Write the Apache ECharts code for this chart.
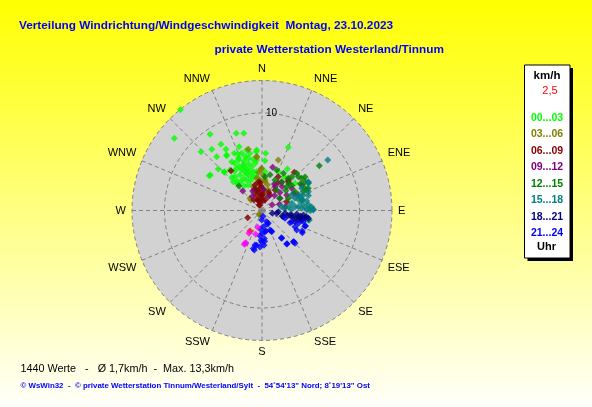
<!DOCTYPE html>
<html><head><meta charset="utf-8">
<script src="https://cdn.jsdelivr.net/npm/echarts@6/dist/echarts.min.js"></script>
<style>html,body{margin:0;padding:0;width:592px;height:407px;overflow:hidden}#c{width:592px;height:407px}</style>
</head><body><div id="c"></div>
<script>
// ---- texts ----
const titleText = 'Verteilung Windrichtung/Windgeschwindigkeit  Montag, 23.10.2023';
const stationText = 'private Wetterstation Westerland/Tinnum';
const statsText = '1440 Werte   -   \u00d8 1,7km/h  -  Max. 13,3km/h';
const footerText = '\u00a9 WsWin32  -  \u00a9 private Wetterstation Tinnum/Westerland/Sylt  -  54\u02da54\'13" Nord; 8\u02da19\'13" Ost';
const unitText = 'km/h';
const ringStepText = '2,5';
const hourText = 'Uhr';

// ---- axes ----
const directions = ['N','NNE','NE','ENE','E','ESE','SE','SSE','S','SSW','SW','WSW','W','WNW','NW','NNW'];
const ringValue = 10;
const maxSpeed = 13.33;

// ---- time bins (legend) ----
const timeBins = ['00...03','03...06','06...09','09...12','12...15','15...18','18...21','21...24'];
const binColors = ['#00ff00','#808000','#800000','#800080','#008000','#008080','#000080','#0000ff'];

// ---- data: [speed km/h, direction deg] ----
const h00_03 = [[13.3,321],[11.65,309.5],[9.46,325.7],[8.35,341.6],[8.14,346.7],[7.99,328.2],[8.69,314],[8.12,320.6],[7.28,329.5],[6.95,340.2],[7.21,319.9],[6.18,313.5],[6.43,304.5],[5.55,315.8],[5.88,3.7],[5.12,3.4],[6.06,354.5],[6.52,334.2],[6.75,327.5],[6.22,340.5],[6.4,345.8],[5.53,345.3],[5.72,334.9],[5.89,328.2],[5.04,337.7],[4.62,346.8],[5.05,329],[4.35,336.3],[4.28,328.2],[3.84,341.3],[4.44,321.4],[3.5,333.4],[5.29,321.7],[4.89,351.6],[4.08,347.4],[3.65,323.9],[3.99,4.4],[2.97,331.8],[4.17,315.1],[3.51,351.1],[6.69,327.2],[6.48,303.4],[5.5,315.4],[7.02,22.6],[3.69,317.5],[4.32,22.8],[4.98,31.4],[4.15,33.4],[4.39,50.5],[6.23,355],[5.2,354],[5.9,336],[5.4,340],[5.0,344],[4.7,333],[4.5,340],[4.9,325],[5.6,330],[6.0,348],[4.1,337],[3.8,330],[3.3,340],[3.1,324],[5.3,350],[4.6,318],[4.0,352],[5.8,343],[6.3,337],[4.2,342],[3.6,346],[5.1,333],[4.8,338],[3.9,320]];
const h03_06 = [[6.43,347.4],[5.48,354.3],[4.33,359.6],[3.14,5.6],[3.13,356.2],[2.39,342.5],[1.56,313.7],[2.12,8.3],[5.44,17.9],[4.26,358.6],[1.97,348.9],[2.97,6],[3.35,350.6],[2.44,359],[1.72,22.1],[0.5,204],[0.5,219],[5.57,354.4],[1.76,315.5],[2.6,340],[1.6,359],[2.2,17],[2.9,350],[3.6,2],[2.0,335],[1.2,350],[3.9,355],[2.7,12],[1.4,5]];
const h06_09 = [[2.29,356.6],[5.13,40.2],[3.85,25.7],[2.97,354],[4.0,42.4],[2.1,3.6],[1.17,337.7],[0.6,340],[1.6,359],[1.64,243.3],[2.86,356],[4.13,40.8],[5.17,322.1],[2.69,70.4],[2.16,346.3],[1.7,338.8],[1.15,339.2],[0.64,331.4],[2.51,357.7],[2.71,344.7],[1.69,3.5],[1.12,16],[1.35,322.7],[1.79,27.3],[2.49,32.4],[1.9,350],[1.4,355],[0.9,345],[2.3,340],[1.0,5],[3.3,30],[2.0,20]];
const h09_12 = [[4.56,13.9],[2.81,315.3],[2.18,3.5],[2.78,28.6],[3.8,53.2],[2.99,57.9],[4.05,66.9],[2.4,80.6],[2.23,55.9],[1.55,24.5],[4.84,57.3],[2.21,334.5],[1.74,324.9],[3.2,40],[2.6,45],[3.5,35],[1.9,70],[3.0,25],[2.0,40],[3.7,62],[1.2,60]];
const h12_15 = [[7.46,52],[5.09,47.1],[5.26,64.4],[4.62,41.3],[5.24,50.9],[5.31,56.2],[3.4,23.1],[3.75,12.7],[3.48,5.1],[5.22,43],[4.26,39.2],[3.58,34.4],[3.9,60.3],[4.21,75.2],[2.97,65.1],[4.65,65.5],[5.54,59],[5.04,65.4],[4.42,19.9],[3.52,46.1],[3.45,316.8],[4.0,50],[4.8,55],[3.2,50],[2.6,35],[4.4,30],[5.6,52],[2.2,55],[3.9,45],[4.9,61]];
const h15_18 = [[8.5,52.5],[5.59,58.1],[4.66,60.8],[5.26,89.4],[4.93,87.4],[4.42,84.9],[3.75,84],[3.14,76.4],[3.6,69.7],[4.14,79.7],[4.68,78],[4.15,70],[4.05,66.9],[4.52,69.4],[5.13,67.9],[5.51,59.6],[5.26,88.7],[3.43,62.4],[4.85,101.6],[4.08,86.8],[3.42,83.4],[2.74,81.8],[4.6,89.4],[4.95,90.2],[4.95,101.4],[3.0,88],[2.3,85],[4.3,75],[5.0,72],[3.9,73],[4.8,83],[5.1,86],[2.0,78]];
const h18_21 = [[4.15,101.1],[3.78,99.7],[3.08,98.6],[2.38,97],[1.68,94.2],[4.28,96.2],[3.58,95.8],[2.92,99.1],[3.57,108.7],[4.18,103.5],[4.82,99.6],[2.28,106.2],[1.54,100.8],[2.14,105.4],[3.51,102.2],[4.22,102.4],[4.5,100],[3.9,104],[3.2,103],[2.7,101],[4.0,98],[4.6,98],[1.1,105]];
const h21_24 = [[0.98,181.8],[1.67,175.4],[2.35,179.2],[2.2,171.9],[3.04,181.9],[2.87,175.3],[3.74,183.2],[3.61,191.5],[4.13,191],[1.46,153.8],[2.17,157.7],[3.49,144.7],[4.27,143.6],[4.53,134.9],[4.77,134.8],[4.72,118.8],[4.69,109.8],[4.08,119.3],[3.77,116.1],[3.14,113.5],[1.25,157.2],[2.5,108.7],[3.27,110.7],[3.97,109.4],[4.39,105.2],[1.5,160],[2.15,169],[2.32,155.6],[3.44,144.6],[4.28,143],[4.58,134.6],[4.74,109.7],[4.63,117.1],[3.16,175],[4.0,193],[3.6,188.7],[3.22,180.5],[3.56,176.7],[2.4,155.4],[0.6,170],[1.9,185],[2.6,185]];
const markRed = [[2.44,210.3]];
const markMagenta = [[2.7,209.7],[2.53,194.8],[3.7,206.8],[3.91,207.6],[1.78,194.4],[3.8,207]];

const binData = [h00_03,h03_06,h06_09,h09_12,h12_15,h15_18,h18_21,h21_24];

const chart = echarts.init(document.getElementById('c'), null, {renderer:'canvas'});
const FF = 'Liberation Sans, Arial, sans-serif';
const CX = 262, CY = 210.5, R = 130;

const series = binData.map((d,i)=>({
  name: timeBins[i], type:'scatter', coordinateSystem:'polar',
  symbol:'diamond', symbolSize:7, data:d,
  itemStyle:{color:binColors[i]}, silent:true
}));
series.push({name:'red',type:'scatter',coordinateSystem:'polar',symbol:'diamond',symbolSize:7,data:markRed,itemStyle:{color:'#ff0000'},silent:true});
series.push({name:'magenta',type:'scatter',coordinateSystem:'polar',symbol:'diamond',symbolSize:7,data:markMagenta,itemStyle:{color:'#ff00ff'},silent:true});

const legendX = 547;
const legendGraphics = [
  {type:'rect', shape:{x:527.5,y:68,width:45.5,height:193}, style:{fill:'#000'}},
  {type:'rect', shape:{x:524.5,y:65,width:45.5,height:193}, style:{fill:'#fff',stroke:'#000',lineWidth:1}},
  {type:'text', x:legendX, y:75.5, style:{text:unitText, fill:'#000', font:'bold 11.5px '+FF, textAlign:'center', textVerticalAlign:'middle'}},
  {type:'text', x:550, y:91, style:{text:ringStepText, fill:'#ff0000', font:'11px '+FF, textAlign:'center', textVerticalAlign:'middle'}},
  {type:'text', x:546.5, y:247, style:{text:hourText, fill:'#000', font:'bold 11px '+FF, textAlign:'center', textVerticalAlign:'middle'}}
];
timeBins.forEach((t,i)=>{
  legendGraphics.push({type:'text', x:legendX, y:117.8+i*16.5, style:{text:t, fill:binColors[i], font:'bold 10.5px '+FF, textAlign:'center', textVerticalAlign:'middle'}});
});

const option = {
  animation:false,
  backgroundColor:{type:'linear',x:0,y:0,x2:0,y2:1,colorStops:[{offset:0,color:'#ffff00'},{offset:1,color:'#fffffa'}]},
  polar:{center:[CX,CY], radius:R},
  angleAxis:{
    type:'value', min:0, max:360, interval:22.5, startAngle:90, clockwise:true,
    axisLine:{show:false}, axisTick:{show:false},
    axisLabel:{show:true, margin:6, color:'#000', fontSize:11, fontFamily:FF,
      formatter:v=> v>=360 ? '' : directions[Math.round(v/22.5)%16]},
    splitLine:{show:true, lineStyle:{color:'#808080', type:[4,3], width:1}}
  },
  radiusAxis:{
    type:'value', min:0, max:maxSpeed, interval:ringValue,
    axisLine:{show:false}, axisTick:{show:false},
    axisLabel:{show:true, margin:-4, align:'left', color:'#000', fontSize:10, fontFamily:FF,
      formatter:v=> v===ringValue ? String(ringValue) : ''},
    splitLine:{show:true, showMaxLine:false, lineStyle:{color:'#808080', type:[4,3], width:1}}
  },
  graphic:[
    {type:'circle', z:-10, shape:{cx:CX, cy:CY, r:R}, style:{fill:'#d2d2d2'}, silent:true},
    {type:'text', x:19, y:25.5, style:{text:titleText, fill:'#0000ff', font:'bold 11.8px '+FF, textVerticalAlign:'middle'}},
    {type:'text', x:214.5, y:49.5, style:{text:stationText, fill:'#0000ff', font:'bold 11.8px '+FF, textVerticalAlign:'middle'}},
    {type:'text', x:20.5, y:369, style:{text:statsText, fill:'#000', font:'10.8px '+FF, textVerticalAlign:'middle'}},
    {type:'text', x:20.5, y:385.5, style:{text:footerText, fill:'#0000ff', font:'bold 7.9px '+FF, textVerticalAlign:'middle'}}
  ].concat(legendGraphics),
  series:series
};
chart.setOption(option);
</script></body></html>
